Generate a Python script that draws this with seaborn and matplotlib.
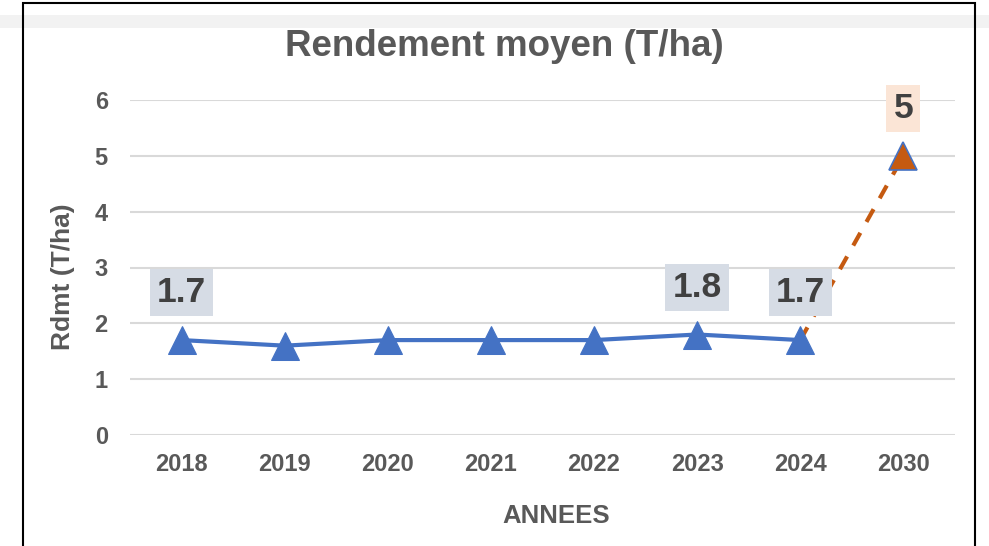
import matplotlib
matplotlib.use("Agg")
import matplotlib.pyplot as plt
import seaborn as sns
from matplotlib.patches import Rectangle

# Data
years = ["2018", "2019", "2020", "2021", "2022", "2023", "2024", "2030"]
rendement = [1.7, 1.6, 1.7, 1.7, 1.7, 1.8, 1.7]          # observed 2018-2024
projection_years = ["2024", "2030"]
projection_values = [1.7, 5.0]
labelled_years = ["2018", "2023", "2024"]
yticks = [0, 1, 2, 3, 4, 5, 6]

sns.set_theme(style="white")
plt.rcParams['font.family'] = ['Liberation Sans', 'DejaVu Sans']

BLUE = "#4472C4"
ORANGE = "#C55A11"
GRAY = "#595959"

fig = plt.figure(figsize=(9.89, 5.46), dpi=100)
fig.patch.set_facecolor("white")

# light band + frame of the screenshot
fig.patches.append(Rectangle((0, 1 - 28/546), 1, 13/546, transform=fig.transFigure,
                             facecolor="#F2F2F2", edgecolor="none", zorder=0))
fig.patches.append(Rectangle((23/989, -0.05), (975-23)/989, 1.05 - 3/546,
                             transform=fig.transFigure, facecolor="none",
                             edgecolor="black", linewidth=1.5, zorder=1))

ax = fig.add_axes([130/989, 1 - 435/546, (955-130)/989, (435-100)/546])
ax.set_facecolor("none")

pos = {y: i for i, y in enumerate(years)}
obs_x = [pos[y] for y in years[:len(rendement)]]
proj_x = [pos[y] for y in projection_years]

# projection (dashed) behind
sns.lineplot(x=proj_x, y=projection_values, ax=ax, color=ORANGE, linewidth=3,
             linestyle=(0, (3.5, 3)), zorder=2)
ax.plot([proj_x[-1]], [projection_values[-1]], marker="^", markersize=20,
        color=ORANGE, markeredgecolor=BLUE, markeredgewidth=1.2, linestyle="none", zorder=4)

sns.lineplot(x=obs_x, y=rendement, ax=ax, color=BLUE, linewidth=3, marker="^",
             markersize=20, markeredgecolor=BLUE, zorder=3)

for y in labelled_years:
    i = pos[y]
    v = rendement[i]
    ax.annotate(f"{v:g}", (i, v), xytext=(0, 34), textcoords="offset points",
                ha="center", va="center", fontsize=25.5, fontweight="bold", color="#404040",
                bbox=dict(boxstyle="square,pad=0.2", facecolor="#D6DCE5", edgecolor="none"),
                zorder=5)
ax.annotate(f"{projection_values[-1]:g}", (proj_x[-1], projection_values[-1]),
            xytext=(0, 34), textcoords="offset points", ha="center", va="center",
            fontsize=25.5, fontweight="bold", color="#404040",
            bbox=dict(boxstyle="square,pad=0.2", facecolor="#FBE5D6", edgecolor="none"),
            zorder=5)

ax.set_xlim(-0.5, len(years) - 0.5)
ax.set_ylim(0, 6)
ax.set_yticks(yticks)
ax.set_xticks(range(len(years)))
ax.set_xticklabels(years)
for sp in ax.spines.values():
    sp.set_visible(False)
ax.grid(axis="y", color="#D9D9D9", linewidth=1.5)
ax.grid(axis="x", visible=False)
ax.set_axisbelow(True)
ax.tick_params(axis="both", length=0, labelsize=17, labelcolor=GRAY)
ax.tick_params(axis="y", pad=16)
ax.tick_params(axis="x", pad=13)
for lbl in ax.get_xticklabels() + ax.get_yticklabels():
    lbl.set_fontweight("bold")

ax.set_ylabel("Rdmt (T/ha)", fontsize=19, fontweight="bold", color=GRAY, va="center")
ax.set_xlabel("ANNEES", fontsize=18.5, fontweight="bold", color=GRAY, va="center")
ax.yaxis.set_label_coords((63-130)/825, (435-277)/335)
ax.xaxis.set_label_coords((556-130)/825, (435-516)/335)
fig.text(504/989, 1 - 47/546, "Rendement moyen (T/ha)", ha="center", va="center",
         fontsize=26.5, fontweight="bold", color=GRAY)

fig.savefig("out.png", dpi=100)
